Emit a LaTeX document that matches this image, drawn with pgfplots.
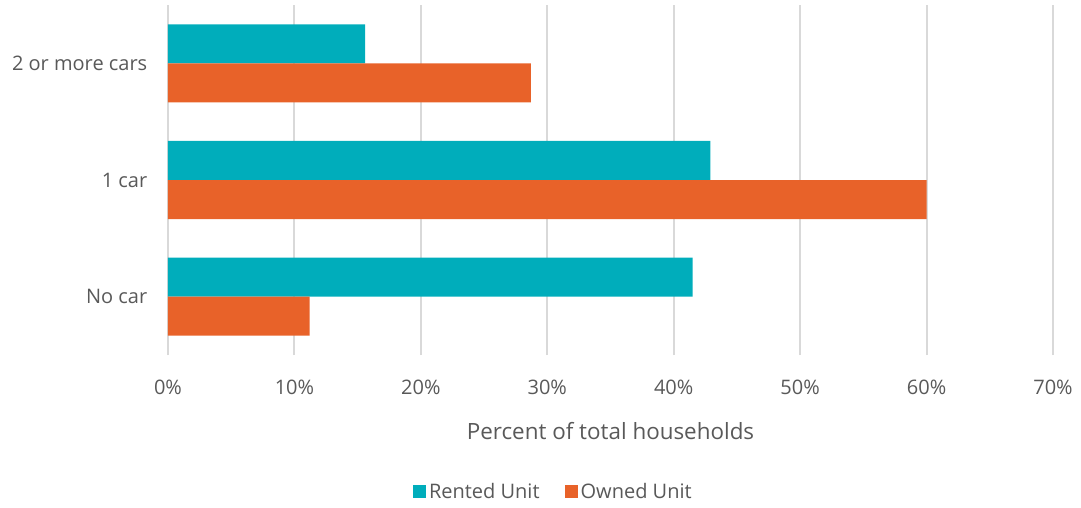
\documentclass[border=0pt]{standalone}
\usepackage{fontspec}
\setmainfont{Open Sans}
\usepackage{pgfplots}
\pgfplotsset{compat=1.18}
\definecolor{rented}{RGB}{0,173,187}
\definecolor{owned}{RGB}{232,98,41}
\definecolor{txt}{RGB}{89,89,89}
\definecolor{gridc}{RGB}{217,217,217}

\begin{document}
\begin{tikzpicture}
\begin{axis}[
 at={(0pt,0pt)},anchor=south west,
 scale only axis,width=663.75pt,height=262.5pt,
 xbar,bar width=29.25pt,
 xmin=0,xmax=70,ymin=-0.5,ymax=2.5,
 axis line style={draw=none},
 xmajorgrids,grid style={gridc,line width=1.5pt},
 xtick={0,10,20,30,40,50,60,70},
 xticklabels={0\%,10\%,20\%,30\%,40\%,50\%,60\%,70\%},
 ytick={0,1,2},
 yticklabels={No car,1 car,2 or more cars},
 major tick length=0pt,
 tick label style={font=\fontsize{15}{18}\selectfont,text=txt},
 xticklabel style={yshift=-15pt},
 yticklabel style={xshift=-12pt},
 xlabel={Percent of total households},
 xlabel style={font=\fontsize{16.8}{20}\selectfont,text=txt,yshift=-14pt},
 legend style={at={(0.436,-0.391)},anchor=center,draw=none,
   font=\fontsize{15}{18}\selectfont,text=txt,
   legend columns=2,/tikz/every even column/.append style={column sep=17pt}},
 legend image code/.code={\fill[#1] (-2.5pt,-4.9pt) rectangle (7.25pt,4.9pt);},
]
\addplot[draw=none,fill=rented,bar shift=14.625pt] coordinates {(41.5,0) (42.9,1) (15.6,2)};
\addplot[draw=none,fill=owned,bar shift=-14.625pt] coordinates {(11.2,0) (60.0,1) (28.7,2)};
\legend{Rented Unit,Owned Unit}
\end{axis}
\pgfresetboundingbox
\path[use as bounding box] (-126pt,-114pt) rectangle (684.75pt,266.25pt);
\end{tikzpicture}
\end{document}
